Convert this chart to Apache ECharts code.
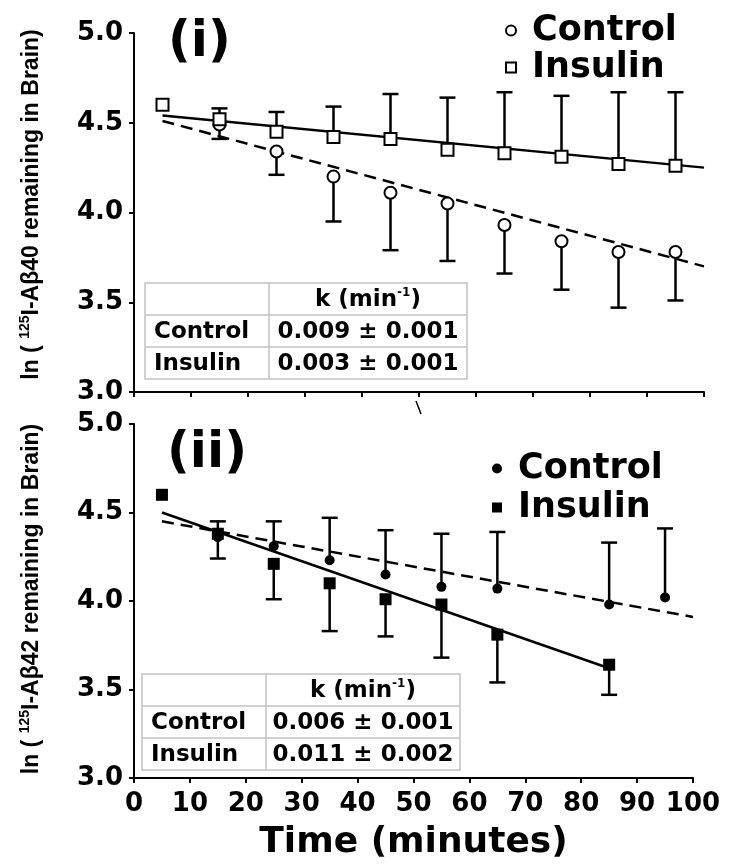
<!DOCTYPE html>
<html><head><meta charset="utf-8">
<script src="https://cdn.jsdelivr.net/npm/echarts@6/dist/echarts.min.js"></script>
<style>html,body{margin:0;padding:0;background:#fff}#c{width:729px;height:864px}</style>
</head><body><div id="c"></div>
<script>
// ---------- Panel (i): 125I-Aβ40 ----------
const timeCtrlA = [15, 25, 35, 45, 55, 65, 75, 85, 95];
const ctrlMeanA = [4.49, 4.34, 4.20, 4.11, 4.05, 3.93, 3.84, 3.78, 3.78];
const ctrlLowA  = [4.41, 4.21, 3.95, 3.79, 3.73, 3.66, 3.57, 3.47, 3.51];
const timeInsA  = [5, 15, 25, 35, 45, 55, 65, 75, 85, 95];
const insMeanA  = [4.60, 4.52, 4.45, 4.42, 4.41, 4.35, 4.33, 4.31, 4.27, 4.26];
const insHighA  = [null, 4.58, 4.56, 4.59, 4.66, 4.64, 4.67, 4.65, 4.67, 4.67];
const fitCtrlA  = [[5, 4.51], [100, 3.70]];
const fitInsA   = [[5, 4.54], [100, 4.25]];
const tableA    = [['Control', '0.009 ± 0.001'], ['Insulin', '0.003 ± 0.001']];

// ---------- Panel (ii): 125I-Aβ42 ----------
const timeCtrlB = [15, 25, 35, 45, 55, 65, 85, 95];
const ctrlMeanB = [4.36, 4.31, 4.23, 4.15, 4.08, 4.07, 3.98, 4.02];
const ctrlHighB = [4.45, 4.45, 4.47, 4.40, 4.38, 4.39, 4.33, 4.41];
const timeInsB  = [5, 15, 25, 35, 45, 55, 65, 85];
const insMeanB  = [4.60, 4.38, 4.21, 4.10, 4.01, 3.98, 3.81, 3.64];
const insLowB   = [null, 4.24, 4.01, 3.83, 3.80, 3.68, 3.54, 3.47];
const fitCtrlB  = [[5, 4.45], [100, 3.91]];
const fitInsB   = [[5, 4.50], [85, 3.62]];
const tableB    = [['Control', '0.006 ± 0.001'], ['Insulin', '0.011 ± 0.002']];

const panelLabels = ['(i)', '(ii)'];
const yNamesPeptide = ['40', '42'];
const legendNames = ['Control', 'Insulin'];
const xTitle = 'Time (minutes)';

const BOLD = 'DejaVu Sans';
const ARIAL = 'Liberation Sans';

function pairs(xs, ys) { return xs.map((x, i) => [x, ys[i]]); }
function errData(xs, ys, es) {
  const out = [];
  xs.forEach((x, i) => { if (es[i] != null) out.push([x, ys[i], es[i]]); });
  return out;
}
function errRender(params, api) {
  const x = api.value(0), y = api.value(1), e = api.value(2);
  const p0 = api.coord([x, y]), p1 = api.coord([x, e]);
  const st = { stroke: '#000', lineWidth: 2.5 };
  return { type: 'group', children: [
    { type: 'line', shape: { x1: p0[0], y1: p0[1], x2: p1[0], y2: p1[1] }, style: st },
    { type: 'line', shape: { x1: p1[0] - 8, y1: p1[1], x2: p1[0] + 8, y2: p1[1] }, style: st }
  ]};
}

function yAxisCfg(gi, pep) {
  return {
    type: 'value', gridIndex: gi, min: 3, max: 5, interval: 0.5,
    axisLine: { show: true, lineStyle: { color: '#000', width: 2 } },
    axisTick: { show: true, length: 5, lineStyle: { color: '#000', width: 2 } },
    splitLine: { show: false },
    axisLabel: { margin: 11, color: '#000', fontFamily: BOLD, fontWeight: 'bold', fontSize: 26,
      formatter: v => v.toFixed(1) },
    name: '{a|ln ( }{s|125}{a|I-Aβ' + pep + ' remaining in Brain)}',
    nameLocation: 'middle', nameGap: 89,
    nameTextStyle: { padding: gi === 0 ? [0, 0, 0, 16] : [0, 0, 0, 4], rich: {
      a: { fontFamily: ARIAL, fontWeight: 'bold', fontSize: 23, color: '#000', lineHeight: 27 },
      s: { fontFamily: ARIAL, fontWeight: 'bold', fontSize: 14, color: '#000', verticalAlign: 'top', lineHeight: 27 }
    }}
  };
}
function xAxisCfg(gi, showLabels) {
  const c = {
    type: 'value', gridIndex: gi, min: 0, max: 100, interval: 10,
    axisLine: { show: true, onZero: false, lineStyle: { color: '#000', width: 2 } },
    axisTick: { show: true, length: 5, lineStyle: { color: '#000', width: 2 } },
    splitLine: { show: false },
    axisLabel: { show: showLabels, margin: 13, color: '#000', fontFamily: BOLD, fontWeight: 'bold', fontSize: 26,
      showMinLabel: true, showMaxLabel: true }
  };
  if (showLabels) {
    c.name = xTitle; c.nameLocation = 'middle'; c.nameGap = 47;
    c.nameTextStyle = { fontFamily: BOLD, fontWeight: 'bold', fontSize: 36, color: '#000' };
  }
  return c;
}

function tableGraphic(x0, y0, w, colW, rowH, rows) {
  const h = rowH * 3, line = { stroke: '#c2c2c2', lineWidth: 1.5 };
  const font = { fontFamily: BOLD, fontWeight: 'bold', fontSize: 23, fill: '#000' };
  const ch = [
    { type: 'rect', shape: { x: x0, y: y0, width: w, height: h }, style: Object.assign({ fill: '#fff' }, line) },
    { type: 'line', shape: { x1: x0 + colW, y1: y0, x2: x0 + colW, y2: y0 + h }, style: line },
    { type: 'line', shape: { x1: x0, y1: y0 + rowH, x2: x0 + w, y2: y0 + rowH }, style: line },
    { type: 'line', shape: { x1: x0, y1: y0 + 2 * rowH, x2: x0 + w, y2: y0 + 2 * rowH }, style: line },
    { type: 'text', style: { x: x0 + colW + (w - colW) / 2, y: y0 + rowH / 2 + 1, align: 'center', verticalAlign: 'middle',
      text: '{a|k (min}{s|-1}{a|)}', rich: {
        a: { fontFamily: BOLD, fontWeight: 'bold', fontSize: 23, fill: '#000', lineHeight: 27 },
        s: { fontFamily: BOLD, fontWeight: 'bold', fontSize: 12, fill: '#000', verticalAlign: 'top', lineHeight: 27 } } } }
  ];
  rows.forEach((r, i) => {
    const cy = y0 + rowH * (i + 1.5) + 1;
    ch.push({ type: 'text', style: Object.assign({ x: x0 + 9, y: cy, align: 'left', verticalAlign: 'middle', text: r[0] }, font) });
    ch.push({ type: 'text', style: Object.assign({ x: x0 + colW + (w - colW) / 2, y: cy, align: 'center', verticalAlign: 'middle', text: r[1] }, font) });
  });
  return { type: 'group', z: 100, children: ch };
}

const openStyle = { color: '#fff', borderColor: '#000', borderWidth: 2, opacity: 1 };
const fillStyle = { color: '#000', borderColor: '#000', borderWidth: 0, opacity: 1 };

const option = {
  animation: false,
  backgroundColor: '#fff',
  grid: [
    { left: 134, top: 33, width: 570, height: 359 },
    { left: 134, top: 424, width: 559, height: 354 }
  ],
  xAxis: [xAxisCfg(0, false), xAxisCfg(1, true)],
  yAxis: [yAxisCfg(0, yNamesPeptide[0]), yAxisCfg(1, yNamesPeptide[1])],
  title: [
    { text: panelLabels[0], left: 163, top: 13, textStyle: { fontFamily: BOLD, fontWeight: 'bold', fontSize: 50, color: '#000' } },
    { text: panelLabels[1], left: 162, top: 424, textStyle: { fontFamily: BOLD, fontWeight: 'bold', fontSize: 50, color: '#000' } }
  ],
  legend: [
    { left: 500, top: 8, orient: 'vertical', itemWidth: 10, itemHeight: 10, itemGap: 2, selectedMode: false,
      formatter: n => n.split(' ')[0],
      textStyle: { fontFamily: BOLD, fontWeight: 'bold', fontSize: 35, color: '#000', lineHeight: 34, padding: [0, 0, 0, 11] },
      data: [ { name: legendNames[0] + ' (i)', icon: 'circle', itemStyle: openStyle },
              { name: legendNames[1] + ' (i)', icon: 'rect', itemStyle: openStyle } ] },
    { left: 487, top: 446, orient: 'vertical', itemWidth: 10, itemHeight: 10, itemGap: 4, selectedMode: false,
      formatter: n => n.split(' ')[0],
      textStyle: { fontFamily: BOLD, fontWeight: 'bold', fontSize: 35, color: '#000', lineHeight: 34, padding: [0, 0, 0, 11] },
      data: [ { name: legendNames[0] + ' (ii)', icon: 'circle', itemStyle: fillStyle },
              { name: legendNames[1] + ' (ii)', icon: 'rect', itemStyle: fillStyle } ] }
  ],
  graphic: [
    tableGraphic(145, 283, 322, 124, 32, tableA),
    tableGraphic(142, 674, 318, 124, 32, tableB),
    { type: 'line', z: 100, shape: { x1: 416, y1: 401, x2: 421, y2: 414 }, style: { stroke: '#000', lineWidth: 1.5 } }
  ],
  series: [
    // panel (i)
    { type: 'line', xAxisIndex: 0, yAxisIndex: 0, data: fitCtrlA, symbol: 'none', silent: true, z: 1,
      lineStyle: { color: '#000', width: 2.5, type: [12, 7] } },
    { type: 'line', xAxisIndex: 0, yAxisIndex: 0, data: fitInsA, symbol: 'none', silent: true, z: 1,
      lineStyle: { color: '#000', width: 2.5 } },
    { type: 'custom', xAxisIndex: 0, yAxisIndex: 0, renderItem: errRender, data: errData(timeCtrlA, ctrlMeanA, ctrlLowA), z: 2, silent: true },
    { type: 'custom', xAxisIndex: 0, yAxisIndex: 0, renderItem: errRender, data: errData(timeInsA, insMeanA, insHighA), z: 2, silent: true },
    { name: legendNames[0] + ' (i)', type: 'scatter', xAxisIndex: 0, yAxisIndex: 0, data: pairs(timeCtrlA, ctrlMeanA),
      symbol: 'circle', symbolSize: 12, itemStyle: openStyle, z: 3 },
    { name: legendNames[1] + ' (i)', type: 'scatter', xAxisIndex: 0, yAxisIndex: 0, data: pairs(timeInsA, insMeanA),
      symbol: 'rect', symbolSize: 12, itemStyle: openStyle, z: 4 },
    // panel (ii)
    { type: 'line', xAxisIndex: 1, yAxisIndex: 1, data: fitCtrlB, symbol: 'none', silent: true, z: 1,
      lineStyle: { color: '#000', width: 2.5, type: [12, 7] } },
    { type: 'line', xAxisIndex: 1, yAxisIndex: 1, data: fitInsB, symbol: 'none', silent: true, z: 1,
      lineStyle: { color: '#000', width: 2.5 } },
    { type: 'custom', xAxisIndex: 1, yAxisIndex: 1, renderItem: errRender, data: errData(timeCtrlB, ctrlMeanB, ctrlHighB), z: 2, silent: true },
    { type: 'custom', xAxisIndex: 1, yAxisIndex: 1, renderItem: errRender, data: errData(timeInsB, insMeanB, insLowB), z: 2, silent: true },
    { name: legendNames[0] + ' (ii)', type: 'scatter', xAxisIndex: 1, yAxisIndex: 1, data: pairs(timeCtrlB, ctrlMeanB),
      symbol: 'circle', symbolSize: 10, itemStyle: fillStyle, z: 3 },
    { name: legendNames[1] + ' (ii)', type: 'scatter', xAxisIndex: 1, yAxisIndex: 1, data: pairs(timeInsB, insMeanB),
      symbol: 'rect', symbolSize: 12, itemStyle: fillStyle, z: 4 }
  ]
};
const chart = echarts.init(document.getElementById('c'), null, { renderer: 'canvas' });
chart.setOption(option);
</script>
</body></html>
